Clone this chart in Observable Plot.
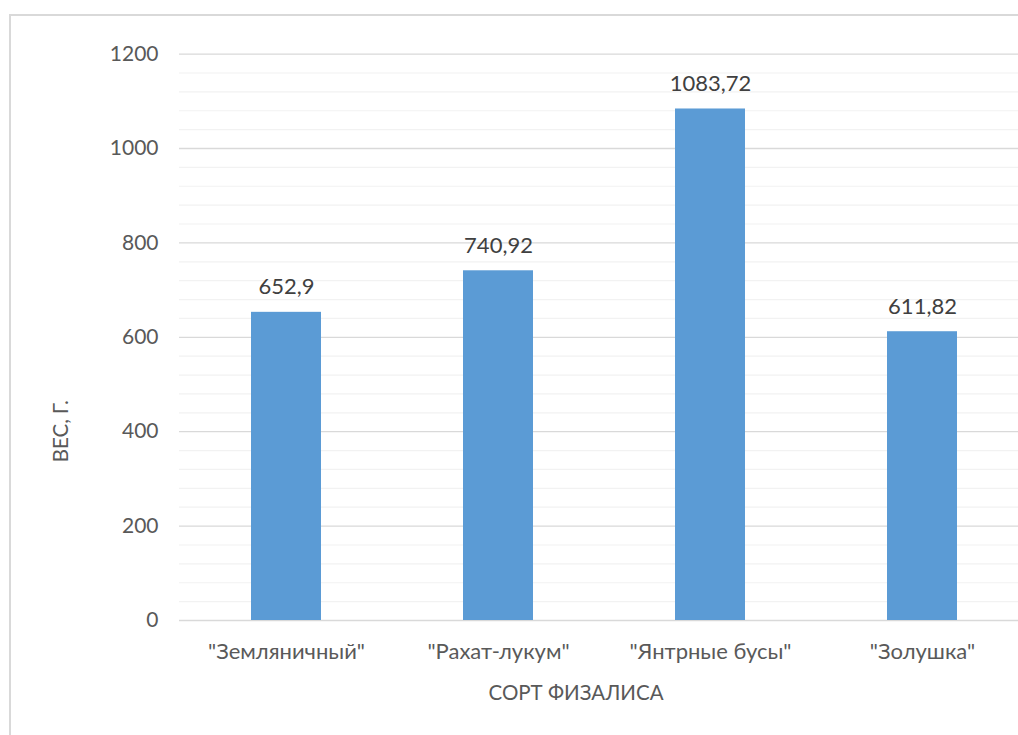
<!DOCTYPE html>
<html>
<head>
<meta charset="utf-8">
<script src="https://cdn.jsdelivr.net/npm/d3@7"></script>
<script src="https://cdn.jsdelivr.net/npm/@observablehq/plot@0.6"></script>
<style>
  html, body { margin: 0; padding: 0; background: #fff; overflow: hidden; width: 1018px; height: 735px; }
  #chart { position: absolute; left: 0; top: 0; }
  #frame { position: absolute; left: 9px; top: 14px; width: 1100px; height: 800px; border: 2px solid #d9d9d9; pointer-events: none; }
</style>
</head>
<body>
<div id="chart"></div>
<div id="frame"></div>
<script>
const categories = ['"Земляничный"', '"Рахат-лукум"', '"Янтрные бусы"', '"Золушка"'];
const values = [652.9, 740.92, 1083.72, 611.82];
const valueLabels = ["652,9", "740,92", "1083,72", "611,82"];
const majorTicks = [0, 200, 400, 600, 800, 1000, 1200];
const minorTicks = d3.range(0, 1201, 40).filter(v => v % 200 !== 0);
const yTitle = "ВЕС, Г.";
const xTitle = "СОРТ ФИЗАЛИСА";

const data = categories.map((c, i) => ({category: c, value: values[i], label: valueLabels[i]}));
const font = "Lato, 'Open Sans', sans-serif";

const chart = Plot.plot({
  width: 1040,
  height: 735,
  marginLeft: 179,
  marginRight: 12,
  marginTop: 53.6,
  marginBottom: 115,
  style: {fontFamily: font, background: "transparent", maxWidth: "none", overflow: "visible"},
  x: {domain: categories, paddingInner: 0.67, paddingOuter: 0.335, label: null},
  y: {domain: [0, 1200], label: null},
  marks: [
    Plot.ruleY(minorTicks, {stroke: "#f2f2f2", strokeWidth: 1.2}),
    Plot.ruleY(majorTicks, {stroke: "#d9d9d9", strokeWidth: 1.3}),
    Plot.barY(data, {x: "category", y: "value", fill: "#5b9bd5"}),
    Plot.text(data, {x: "category", y: "value", text: "label", dy: -25, fontSize: 22, fill: "#404040"}),
    Plot.axisY(majorTicks, {tickSize: 0, tickPadding: 21, fontSize: 21, color: "#595959", label: null, tickFormat: d => String(d)}),
    Plot.axisX({tickSize: 0, tickPadding: 23, fontSize: 22, color: "#595959", label: null}),
    Plot.text([yTitle], {frameAnchor: "left", dx: -118, dy: 125, rotate: -90, fontSize: 20.5, fill: "#595959"}),
    Plot.text([xTitle], {frameAnchor: "bottom", dx: -28, dy: 79, fontSize: 20.5, fill: "#595959"})
  ]
});
document.getElementById("chart").appendChild(chart);
</script>
</body>
</html>
